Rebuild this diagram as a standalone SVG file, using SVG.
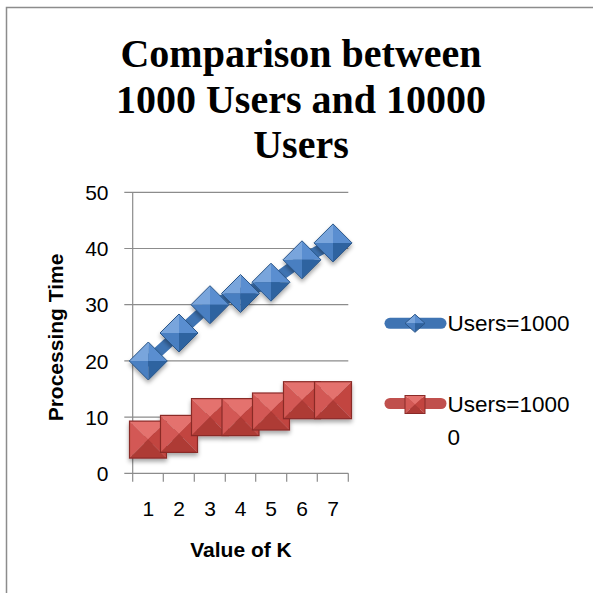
<svg xmlns="http://www.w3.org/2000/svg" xmlns:xlink="http://www.w3.org/1999/xlink" width="593" height="593" viewBox="0 0 593 593">
<style>
.grid{stroke:#8c8c8c;stroke-width:1.2;fill:none}
.tick{font-family:"Liberation Sans",Arial,sans-serif;font-size:21px;fill:#000}
.axt{font-family:"Liberation Sans",Arial,sans-serif;font-size:21px;font-weight:bold;fill:#000}
.title{font-family:"Liberation Serif","Times New Roman",serif;font-size:40px;font-weight:bold;fill:#000}
.leg{font-family:"Liberation Sans",Arial,sans-serif;font-size:22.5px;fill:#000}
.bline{stroke:#3f74b3;stroke-width:11;fill:none;stroke-linecap:round;stroke-linejoin:round}
.rline{stroke:#c0504d;stroke-width:11;fill:none;stroke-linecap:round;stroke-linejoin:round}
</style>
<defs>
<filter id="sh" x="-50%" y="-50%" width="200%" height="200%">
<feDropShadow dx="0" dy="3" stdDeviation="2" flood-color="#000" flood-opacity="0.35"/>
</filter>
<g id="dia">
<path d="M0,0 L0,-19 L-19,0 Z" fill="#79a5dc"/>
<path d="M0,0 L0,-19 L19,0 Z" fill="#5a8ed0"/>
<path d="M0,0 L-19,0 L0,19 Z" fill="#4a7fc1"/>
<path d="M0,0 L19,0 L0,19 Z" fill="#2f63a0"/>
<path d="M0,-19 L19,0 L0,19 L-19,0 Z" fill="none" stroke="#2a5689" stroke-width="1"/>
</g>
<g id="sq">
<path d="M-18.5,-18.5 L18.5,-18.5 L0,0 Z" fill="#e4726e"/>
<path d="M-18.5,-18.5 L-18.5,18.5 L0,0 Z" fill="#d35955"/>
<path d="M18.5,-18.5 L18.5,18.5 L0,0 Z" fill="#c2443f"/>
<path d="M-18.5,18.5 L18.5,18.5 L0,0 Z" fill="#ae3a36"/>
<rect x="-18.5" y="-18.5" width="37" height="37" fill="none" stroke="#8a2a28" stroke-width="1.2"/>
</g>
<g id="ldia">
<path d="M0,0 L0,-9 L-10,0 Z" fill="#79a5dc"/>
<path d="M0,0 L0,-9 L10,0 Z" fill="#5a8ed0"/>
<path d="M0,0 L-10,0 L0,9 Z" fill="#4a7fc1"/>
<path d="M0,0 L10,0 L0,9 Z" fill="#2f63a0"/>
<path d="M0,-9 L10,0 L0,9 L-10,0 Z" fill="none" stroke="#2a5689" stroke-width="1"/>
</g>
<g id="lsq">
<path d="M-10,-9 L10,-9 L0,0 Z" fill="#e4726e"/>
<path d="M-10,-9 L-10,9 L0,0 Z" fill="#d35955"/>
<path d="M10,-9 L10,9 L0,0 Z" fill="#c2443f"/>
<path d="M-10,9 L10,9 L0,0 Z" fill="#ae3a36"/>
<rect x="-10" y="-9" width="20" height="18" fill="none" stroke="#8a2a28" stroke-width="1"/>
</g>
</defs>
<rect x="0" y="0" width="593" height="593" fill="#fff"/>
<path d="M6.5,593 L6.5,7.5 L593,7.5" fill="none" stroke="#8c8c8c" stroke-width="1.5"/>

<g id="title">
<text class="title" x="301" y="66.5" text-anchor="middle">Comparison between</text>
<text class="title" x="301" y="112.5" text-anchor="middle">1000 Users and 10000</text>
<text class="title" x="301" y="158" text-anchor="middle">Users</text>
</g>

<g id="axes">
<path class="grid" d="M124.3,192.3 H348.3 M124.3,248.5 H348.3 M124.3,304.7 H348.3 M124.3,360.9 H348.3 M124.3,417.1 H348.3 M124.3,473.3 H348.3"/>
<path class="grid" d="M132.7,192.3 V481.7 M163.3,473.3 V481.7 M194.3,473.3 V481.7 M225.3,473.3 V481.7 M255.7,473.3 V481.7 M286.7,473.3 V481.7 M317.3,473.3 V481.7 M348.3,473.3 V481.7"/>
<g class="tick" text-anchor="end">
<text x="108.5" y="200">50</text>
<text x="108.5" y="256.2">40</text>
<text x="108.5" y="312.4">30</text>
<text x="108.5" y="368.6">20</text>
<text x="108.5" y="424.8">10</text>
<text x="108.5" y="481">0</text>
</g>
<g class="tick" text-anchor="middle">
<text x="148.3" y="515.5">1</text>
<text x="179" y="515.5">2</text>
<text x="210" y="515.5">3</text>
<text x="240.5" y="515.5">4</text>
<text x="271" y="515.5">5</text>
<text x="302" y="515.5">6</text>
<text x="333" y="515.5">7</text>
</g>
<text class="axt" x="241" y="556.5" text-anchor="middle" font-size="22.5">Value of K</text>
<text class="axt" transform="translate(63,337.5) rotate(-90)" text-anchor="middle">Processing Time</text>
</g>

<g id="connectors">
<polyline class="bline" points="148.3,361 179,333 210,304.7 240.5,293.5 271,282.2 302,259.8 333,242.9"/>
<polyline class="rline" points="148.3,439.6 179,433.9 210,417.1 240.5,417.1 271,411.5 302,400.2 333,400.2"/>
</g>

<g id="series-1000" filter="url(#sh)">
<use xlink:href="#dia" x="148.3" y="361"/>
<use xlink:href="#dia" x="179" y="333"/>
<use xlink:href="#dia" x="210" y="304.7"/>
<use xlink:href="#dia" x="240.5" y="293.5"/>
<use xlink:href="#dia" x="271" y="282.2"/>
<use xlink:href="#dia" x="302" y="259.8"/>
<use xlink:href="#dia" x="333" y="242.9"/>
</g>

<g id="series-10000" filter="url(#sh)">
<use xlink:href="#sq" x="148" y="439.6"/>
<use xlink:href="#sq" x="179" y="433.9"/>
<use xlink:href="#sq" x="210" y="417.1"/>
<use xlink:href="#sq" x="240.5" y="417.1"/>
<use xlink:href="#sq" x="271" y="411.5"/>
<use xlink:href="#sq" x="302" y="400.2"/>
<use xlink:href="#sq" x="333" y="400.2"/>
</g>

<g id="legend">
<line class="bline" x1="390" y1="323.3" x2="441" y2="323.3" stroke-width="10"/>
<use xlink:href="#ldia" x="415" y="323.3"/>
<text class="leg" x="447.5" y="331">Users=1000</text>
<line class="rline" x1="390" y1="403.5" x2="441" y2="403.5" stroke-width="10"/>
<use xlink:href="#lsq" x="415" y="404.5"/>
<text class="leg" x="447.5" y="411.5">Users=1000</text>
<text class="leg" x="447.5" y="445">0</text>
</g>
</svg>
